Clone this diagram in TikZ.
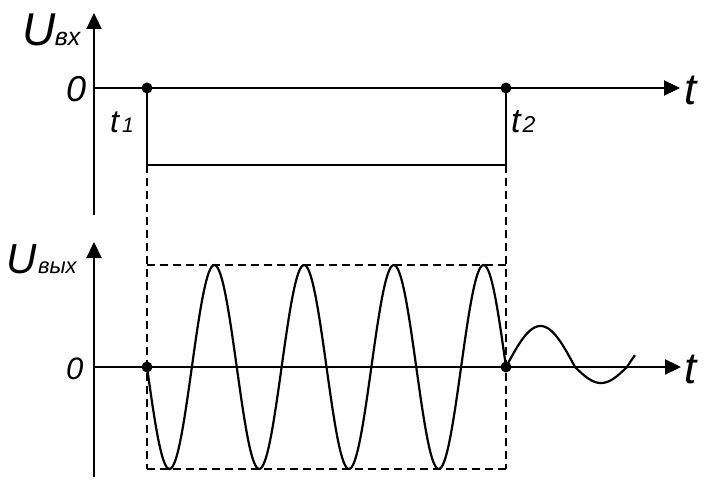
\documentclass[tikz,border=0pt]{standalone}
\usepackage{fontspec}
\setmainfont{Liberation Sans}
\usetikzlibrary{arrows.meta}
\newcommand{\fs}[1]{\fontsize{#1}{#1}\selectfont}
\begin{document}
\begin{tikzpicture}[x=1pt,y=-1pt,
  axis/.style={line width=2.3pt,-{Triangle[length=16pt,width=15pt]}},
  sig/.style={line width=2.2pt},
  guide/.style={line width=2.1pt,dash pattern=on 8pt off 5pt},
  pt/.style={circle,fill=black,inner sep=0pt,minimum size=11pt},
  lbl/.style={inner sep=0pt,anchor=base west,font=\itshape}]
\useasboundingbox (0,0) rectangle (724,495);
% coordinates
\coordinate (A1b) at (94,215);
\coordinate (A1t) at (94,13);
\coordinate (O1) at (94,88);
\coordinate (T1e) at (680,88);
\coordinate (A2b) at (94,477);
\coordinate (A2t) at (94,242);
\coordinate (O2) at (94,367);
\coordinate (T2e) at (681,367);
\coordinate (P1) at (147,165);
\coordinate (P2) at (506,165);
\coordinate (R1) at (147,265);
\coordinate (R2) at (506,265);
\coordinate (R3) at (506,469);
\coordinate (R4) at (147,469);
% axes
\draw[axis] (A1b) -- (A1t);
\draw[axis] (O1) -- (T1e);
\draw[axis] (A2b) -- (A2t);
\draw[axis] (O2) -- (T2e);
% dots
\node[pt] (d1) at (147,88) {};
\node[pt] (d2) at (506,88) {};
\node[pt] (d3) at (147,367) {};
\node[pt] (d4) at (506,367) {};
% pulse
\draw[sig] (d1.center) -- (P1) -- (P2) -- (d2.center);
% dashed guides
\draw[guide] (P1) -- (R4);
\draw[guide] (P2) -- (R3);
\draw[guide] (R1) -- (R2);
\draw[guide] (R4) -- (R3);
% sine
\draw[sig] plot[domain=147:506,samples=240] (\x,{367+102*sin((\x-147)*4.01114)});
\draw[sig,line join=round] plot[domain=506:575,samples=50] (\x,{367-41*sin((\x-506)*2.6087)})
  -- plot[domain=575:627,samples=40] (\x,{367+16*sin((\x-575)*3.4615)})
  -- plot[domain=627:635,samples=10] (\x,{367-20*sin((\x-627)*4.5)});
% labels
\node[lbl] (u1) at (22,46) {\fs{46}U\kern-0.5pt\fs{25}вх};
\node[lbl] (z1) at (66,102) {\fs{36}0};
\node[lbl] (t1) at (684,105) {\fs{44}t};
\node[lbl] (tt1) at (110,133) {\fs{32}t\kern3pt\fs{21}1};
\node[lbl] (tt2) at (511,132) {\fs{34}t\kern2pt\fs{23}2};
\node[lbl] (u2) at (6,273) {\fs{42}U\kern1.5pt\fs{22}вых};
\node[lbl] (z2) at (66,379) {\fs{31}0};
\node[lbl] (t2) at (684,383) {\fs{44}t};
\end{tikzpicture}
\end{document}
